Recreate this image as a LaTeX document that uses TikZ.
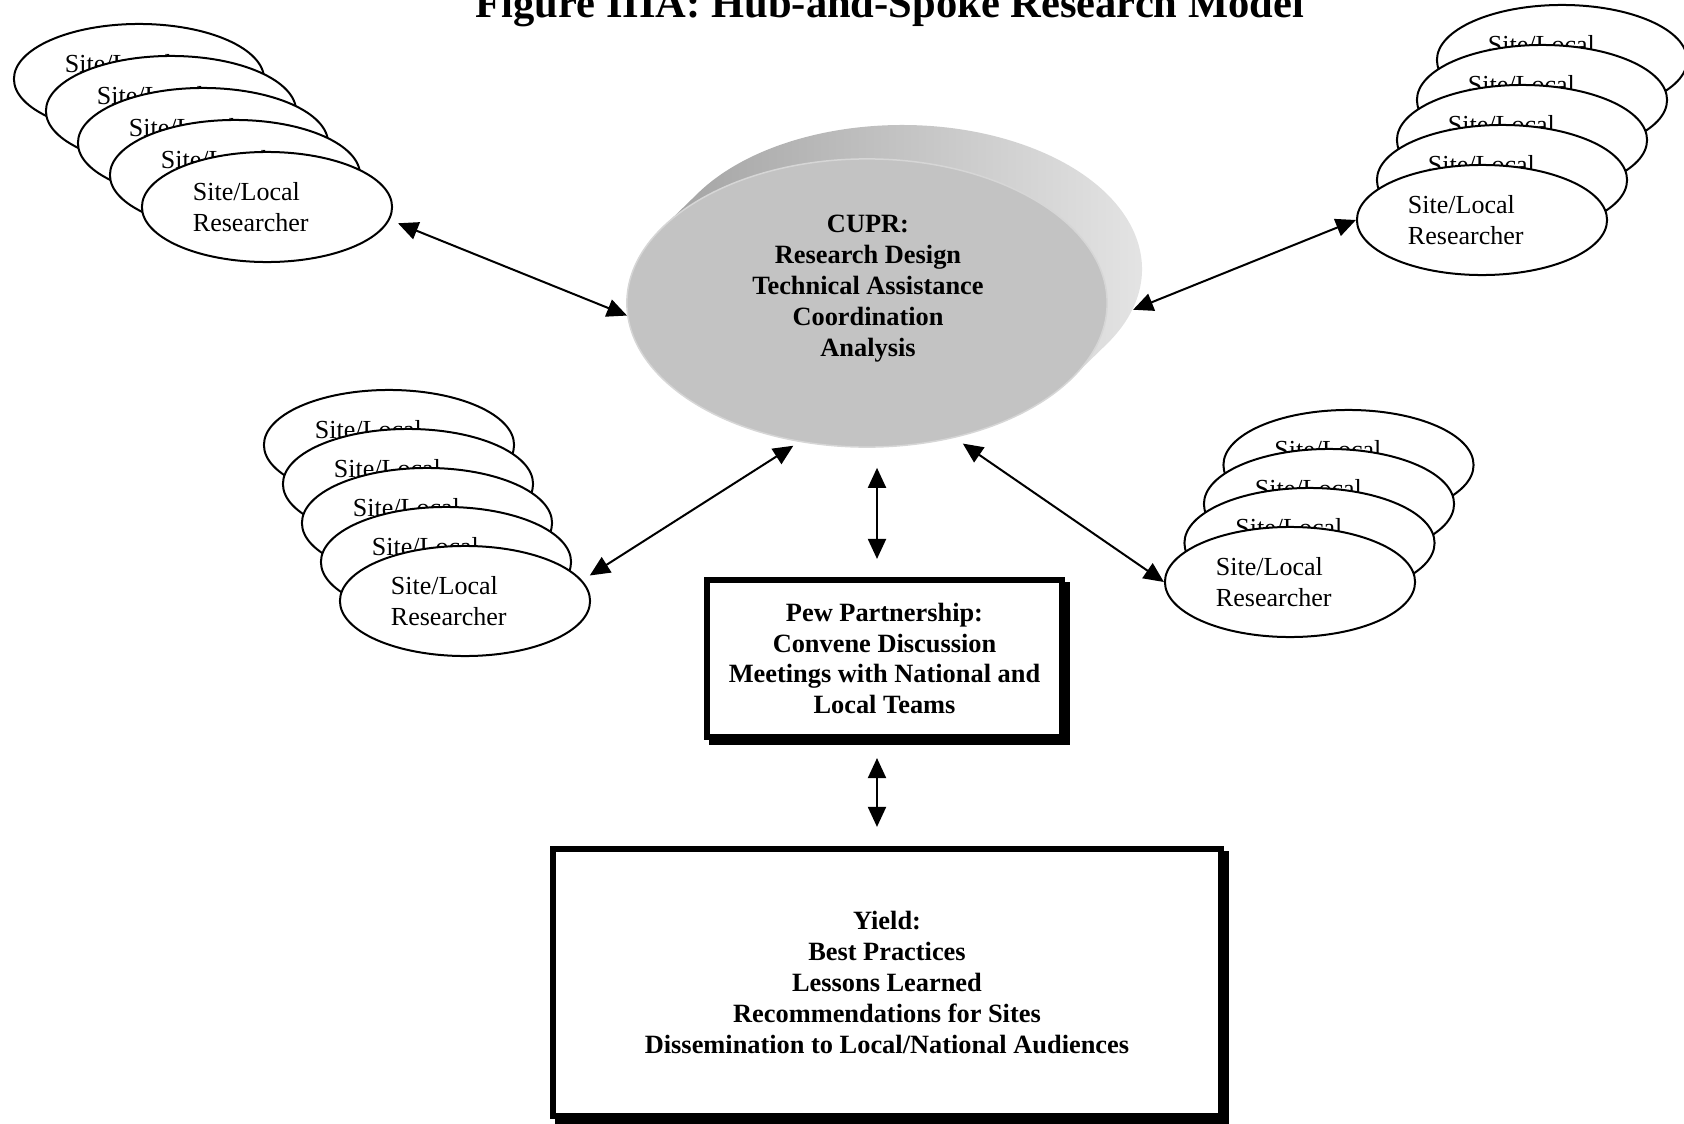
\documentclass[tikz,border=0pt]{standalone}
\usepackage{fontspec}
\setmainfont{Liberation Serif}
\usetikzlibrary{arrows.meta, shapes.geometric, shadows, calc}
\definecolor{hubface}{HTML}{C3C3C3}
\definecolor{hubdark}{HTML}{9A9A9A}
\definecolor{hublight}{HTML}{E8E8E8}
\definecolor{hubrim}{HTML}{D6D6D6}
\tikzset{
	sitenode/.style={
			ellipse,
			draw=black,
			line width=0.02cm,
			fill=white,
			minimum width=2.5cm,
			minimum height=1.1cm,
			inner sep=0pt,
			text width=1.48cm,
			align=left,
			font=\fontsize{7.4}{8.8}\selectfont
		},
	hubnode/.style={
			ellipse,
			fill=hubface,
			draw=hubrim,
			line width=0.015cm,
			minimum width=4.8cm,
			minimum height=2.88cm,
			inner sep=0pt
		},
	boldtext/.style={
			align=center,
			font=\bfseries\fontsize{7.5}{8.8}\selectfont
		},
	framenode/.style={
			boldtext,
			rectangle,
			draw=black,
			line width=0.06cm,
			fill=white,
			inner sep=0pt,
			copy shadow={shadow xshift=0.05cm, shadow yshift=-0.05cm,
				draw=black, fill=black, line width=0.06cm}
		},
	link/.style={
			line width=0.02cm,
			{Triangle[length=0.2cm, width=0.18cm]}-{Triangle[length=0.2cm, width=0.18cm]}
		}
}

\begin{document}
\begin{tikzpicture}[x=0.01cm, y=-0.01cm]
\clip (0,0) rectangle (1684,1124);
\node[boldtext, font=\bfseries\fontsize{12.1}{14}\selectfont, anchor=base] (title) at (890,18) {Figure IIIA: Hub-and-Spoke Research Model};

% stacks of site researchers, back to front
\foreach \k in {4,3,2,1,0} {
  \node[sitenode] (tl\k) at ({267-32*\k},{207-32*\k}) {Site/Local\\Researcher};
  \node[sitenode] (tr\k) at ({1482+20*\k},{220-40*\k}) {Site/Local\\Researcher};
  \node[sitenode] (bl\k) at ({465-19*\k},{601-39*\k}) {Site/Local\\Researcher};
}
\foreach \k in {3,2,1,0}
  \node[sitenode] (br\k) at ({1290+19.5*\k},{582-39*\k}) {Site/Local\\Researcher};

% the hub disc
\node[ellipse, minimum width=4.8cm, minimum height=2.88cm, inner sep=0pt] (hubback) at (902,269) {};
\shade[left color=hubdark, right color=hublight]
  (hubback.center) ++(210.96:240 and 144)
  arc[start angle=210.96, end angle=390.96, x radius=240, y radius=144]
  -- ++(-35,34)
  arc[start angle=30.96, end angle=210.96, x radius=240, y radius=144]
  -- cycle;
\node[hubnode] (hub) at (867,303) {};
\node[boldtext] (cupr) at (868,289) {CUPR:\\Research Design\\Technical Assistance\\Coordination\\Analysis};

\node[framenode, minimum width=3.55cm, minimum height=1.57cm] (pew) at (884.5,658.5)
  {Pew Partnership:\\Convene Discussion\\Meetings with National and\\Local Teams};
\node[framenode, minimum width=6.68cm, minimum height=2.67cm] (yield) at (887,982.5)
  {Yield:\\Best Practices\\Lessons Learned\\Recommendations for Sites\\Dissemination to Local/National Audiences};

\coordinate (hubfoot) at ([xshift=0.1cm]hub.south);
\coordinate (pewfoot) at ([xshift=-0.075cm]pew.south);

\draw[link, shorten <=0.09cm] (tl0.-6) -- (hub.183);
\draw[link] (hubback.-10) -- (tr0.180);
\draw[link, shorten <=0.07cm, shorten >=0.09cm] (hub.244) -- (bl0.10);
\draw[link, shorten <=0.1cm] (hub.303) -- (br0.180);
\draw[link, shorten <=0.2cm, shorten >=0.18cm] (hubfoot) -- (hubfoot |- pew.north);
\draw[link, shorten <=0.18cm, shorten >=0.19cm] (pewfoot) -- (pewfoot |- yield.north);
\end{tikzpicture}
\end{document}
